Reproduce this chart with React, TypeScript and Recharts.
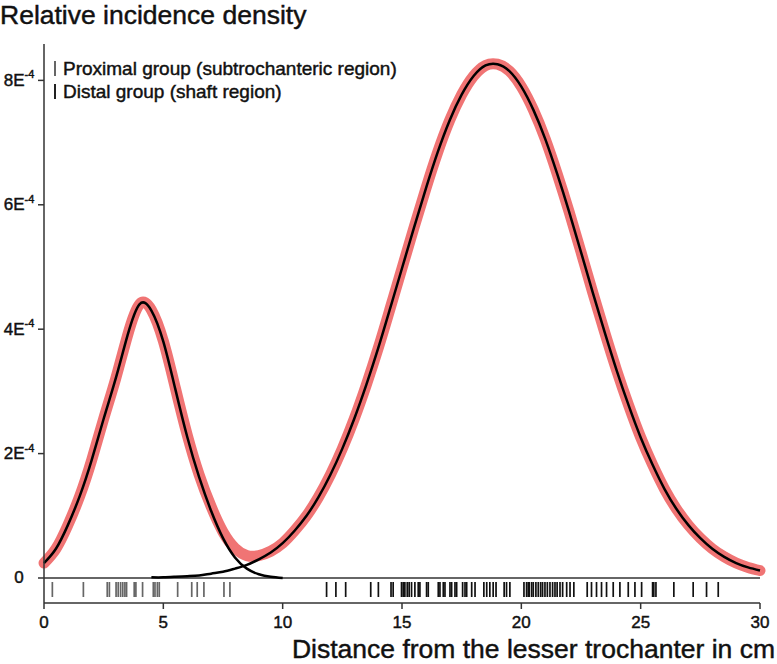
import { ComposedChart, Line, Scatter, XAxis, YAxis, ReferenceLine } from "recharts";

// distance from the lesser trochanter (cm)
const distance = [
  0, 0.5, 1, 1.5, 2, 2.5, 3, 3.5, 4, 4.5, 5, 5.5, 6, 6.5, 7, 7.5, 8, 8.5, 9, 9.5,
  10, 10.5, 11, 11.5, 12, 12.5, 13, 13.5, 14, 14.5, 15, 15.5, 16, 16.5, 17, 17.5,
  18, 18.5, 19, 19.5, 20, 20.5, 21, 21.5, 22, 22.5, 23, 23.5, 24, 24.5, 25, 25.5,
  26, 26.5, 27, 27.5, 28, 28.5, 29, 29.5, 30,
];

// densities in units of 1E-4
const proximalDensity = [
  0.24, 0.47, 0.85, 1.32, 1.9, 2.56, 3.2, 3.9, 4.4, 4.3, 3.8, 3.04, 2.27, 1.62, 1.08, 0.64, 0.33, 0.15, 0.06, 0.02,
  0.0, null, null, null, null, null, null, null, null, null, null, null, null, null, null, null,
  null, null, null, null, null, null, null, null, null, null, null, null, null, null, null, null,
  null, null, null, null, null, null, null, null, null,
];

const distalDensity = [
  null, null, null, null, null, null, null, null, null, 0.01, 0.01, 0.02, 0.03, 0.04, 0.07, 0.1, 0.15, 0.21, 0.3, 0.41,
  0.56, 0.76, 1.0, 1.3, 1.66, 2.08, 2.56, 3.1, 3.69, 4.33, 4.98, 5.63, 6.26, 6.85, 7.36, 7.77,
  8.07, 8.24, 8.26, 8.15, 7.9, 7.53, 7.06, 6.5, 5.89, 5.24, 4.58, 3.94, 3.33, 2.77, 2.26, 1.82,
  1.43, 1.11, 0.85, 0.64, 0.47, 0.34, 0.24, 0.17, 0.12,
];

// individual cases (rug)
const proximalCases = [
  0.35, 1.65, 2.65, 2.74, 3.02, 3.11, 3.21, 3.3, 3.39, 3.46, 3.78, 3.85, 4.13, 4.58, 4.65, 4.75, 4.83,
  5.6, 6.19, 6.42, 6.7, 7.54, 7.79,
];

const distalCases = [
  11.84, 12.23, 12.64, 13.69, 14.01, 14.54, 14.63, 14.98, 15.05, 15.12, 15.22, 15.3, 15.4, 15.54, 15.68,
  15.75, 16.03, 16.1, 16.52, 16.59, 16.73, 16.8, 17.01, 17.08, 17.22, 17.29, 17.54, 17.64, 17.71, 17.92,
  18.06, 18.43, 18.55, 18.68, 18.82, 18.94, 19.28, 19.38, 19.52, 20.11, 20.22, 20.29, 20.33, 20.43, 20.5,
  20.61, 20.71, 20.81, 20.89, 20.99, 21.09, 21.2, 21.31, 21.41, 21.5, 21.62, 21.73, 21.9, 22.04, 22.2,
  22.76, 22.94, 23.15, 23.36, 23.57, 23.85, 24.13, 24.48, 24.76, 25.04, 25.5, 25.55, 25.64, 26.39, 27.2,
  27.76, 28.25,
];

const xTicks = [0, 5, 10, 15, 20, 25, 30];
const yTicks = [0, 2, 4, 6, 8];
const legendLabels = ["Proximal group (subtrochanteric region)", "Distal group (shaft region)"];

const FONT = "'Liberation Sans', Arial, Helvetica, sans-serif";
const INK = "#111";
const RUG_Y = -0.185;

const table = distance.map((x, i) => {
  const p = proximalDensity[i];
  const d = distalDensity[i];
  return { x, proximal: p, distal: d, total: (p ?? 0) + (d ?? 0) };
});

const proximalRug = proximalCases.map((x) => ({ x, y: RUG_Y }));
const distalRug = distalCases.map((x) => ({ x, y: RUG_Y }));

// slight stroke so the text reads as heavy as the scanned original
const heavy = { fill: INK, stroke: INK, strokeWidth: 0.45, fontFamily: FONT };

function rugShape(color: string) {
  return (props: any) => (
    <line x1={props.cx} x2={props.cx} y1={props.cy - 7.5} y2={props.cy + 7.5} stroke={color} strokeWidth={1.7} />
  );
}

function YTick({ x, y, payload }: any) {
  const v = payload.value;
  return (
    <text x={x - 16} y={y} textAnchor="middle" dominantBaseline="central" fontSize={17} {...heavy}>
      {v === 0 ? "0" : (
        <>
          {v}E<tspan fontSize={11} dy={-6}>-4</tspan>
        </>
      )}
    </text>
  );
}

function XTick({ x, y, payload }: any) {
  return (
    <text x={x} y={y + 11} textAnchor="middle" dominantBaseline="central" fontSize={17} {...heavy}>
      {payload.value}
    </text>
  );
}

function YTitle() {
  return (
    <text x={0} y={24} fontSize={26.5} {...heavy}>
      Relative incidence density
    </text>
  );
}

function XTitleAndLegend() {
  return (
    <g>
      <text x={775} y={658} textAnchor="end" fontSize={26.5} {...heavy}>
        Distance from the lesser trochanter in cm
      </text>
      <line x1={55} x2={55} y1={61} y2={76} stroke="#666" strokeWidth={2} />
      <text x={63} y={68} dominantBaseline="central" fontSize={19} {...heavy}>
        {legendLabels[0]}
      </text>
      <line x1={55} x2={55} y1={84} y2={99} stroke="#222" strokeWidth={2} />
      <text x={63} y={91} dominantBaseline="central" fontSize={19} {...heavy}>
        {legendLabels[1]}
      </text>
    </g>
  );
}

export default function App() {
  return (
    <div style={{ position: "absolute", left: 0, top: 0, background: "#fff" }}>
      <ComposedChart width={777} height={664} data={table} margin={{ top: 44, right: 17, bottom: 31, left: 4 }}>
        <XAxis
          type="number"
          dataKey="x"
          domain={[0, 30]}
          ticks={xTicks}
          height={30}
          tickSize={6}
          tickMargin={2}
          stroke="#333"
          strokeWidth={1.5}
          tick={<XTick />}
          label={{ content: XTitleAndLegend }}
        />
        <YAxis
          type="number"
          domain={[-0.402, 8.585]}
          allowDataOverflow
          ticks={yTicks}
          width={40}
          tickSize={6}
          tickMargin={3}
          stroke="#333"
          strokeWidth={1.5}
          tick={<YTick />}
          label={{ content: YTitle }}
        />
        <ReferenceLine y={0} stroke="#333" strokeWidth={1.5} />
        <Line
          dataKey="total"
          type="natural"
          stroke="#f07474"
          strokeWidth={11}
          strokeLinecap="round"
          dot={false}
          activeDot={false}
          isAnimationActive={false}
        />
        <Line dataKey="proximal" type="natural" stroke="#000" strokeWidth={2.5} dot={false} activeDot={false} isAnimationActive={false} />
        <Line dataKey="distal" type="natural" stroke="#000" strokeWidth={2.5} dot={false} activeDot={false} isAnimationActive={false} />
        <Scatter data={proximalRug} dataKey="y" shape={rugShape("#666")} isAnimationActive={false} />
        <Scatter data={distalRug} dataKey="y" shape={rugShape("#111")} isAnimationActive={false} />
      </ComposedChart>
    </div>
  );
}
